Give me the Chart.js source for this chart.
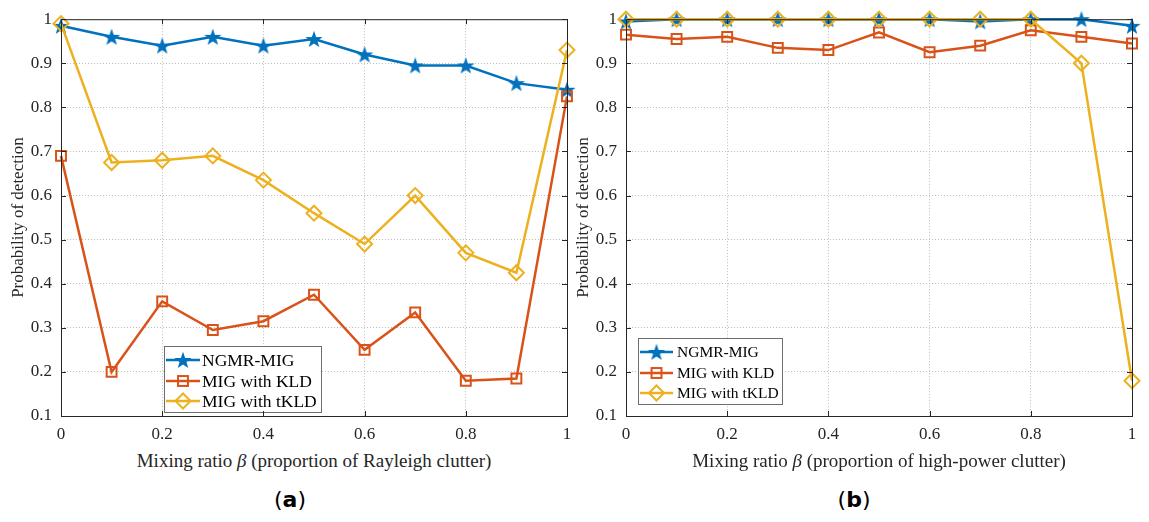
<!DOCTYPE html>
<html lang="en">
<head>
  <meta charset="UTF-8">
  <title>Probability of detection vs mixing ratio</title>
  <script src="https://cdn.jsdelivr.net/npm/chart.js"></script>
  <style>
    body {
      margin: 0;
      width: 1149px;
      height: 522px;
      position: relative;
      overflow: hidden;
      background: #fff;
      font-family: "Liberation Serif", "Times New Roman", serif;
      color: #262626;
    }
    .panel { position: absolute; top: 0; }
    #left { left: 0; }
    #right { left: 565px; }
    .xtitle {
      position: absolute;
      top: 450px;
      font-size: 19px;
      line-height: 22px;
      white-space: nowrap;
      transform: translateX(-50%);
    }
    .tag {
      position: absolute;
      top: 486px;
      font-family: "DejaVu Sans", sans-serif;
      font-size: 22px;
      line-height: 28px;
      color: #000;
      transform: translateX(-50%);
    }
  </style>
</head>
<body>
  <canvas id="left" class="panel" width="580" height="445"></canvas>
  <canvas id="right" class="panel" width="584" height="445"></canvas>
  <div class="xtitle" style="left:314px">Mixing ratio <i>&beta;</i> (proportion of Rayleigh clutter)</div>
  <div class="xtitle" style="left:879px">Mixing ratio <i>&beta;</i> (proportion of high-power clutter)</div>
  <div class="tag" style="left:290px">(<b>a</b>)</div>
  <div class="tag" style="left:854px">(<b>b</b>)</div>

  <script>
    // axis ticks
    const betaTicks = [0, 0.2, 0.4, 0.6, 0.8, 1];
    const betaLabels = ['0', '0.2', '0.4', '0.6', '0.8', '1'];
    const pdTicks = [0.1, 0.2, 0.3, 0.4, 0.5, 0.6, 0.7, 0.8, 0.9, 1];
    const pdLabels = ['0.1', '0.2', '0.3', '0.4', '0.5', '0.6', '0.7', '0.8', '0.9', '1'];

    // mixing ratio values (x)
    const beta = [0, 0.1, 0.2, 0.3, 0.4, 0.5, 0.6, 0.7, 0.8, 0.9, 1];
    const seriesNames = ['NGMR-MIG', 'MIG with KLD', 'MIG with tKLD'];

    // (a) Rayleigh clutter
    const rayNgmr = [0.985, 0.96, 0.94, 0.96, 0.94, 0.955, 0.92, 0.895, 0.895, 0.855, 0.84];
    const rayKld  = [0.69, 0.20, 0.36, 0.295, 0.315, 0.375, 0.25, 0.335, 0.18, 0.185, 0.825];
    const rayTkld = [0.99, 0.675, 0.68, 0.69, 0.635, 0.56, 0.49, 0.60, 0.47, 0.425, 0.93];

    // (b) high-power clutter
    const hpNgmr = [0.995, 1, 1, 1, 1, 1, 1, 0.995, 1, 1, 0.985];
    const hpKld  = [0.965, 0.955, 0.96, 0.935, 0.93, 0.97, 0.925, 0.94, 0.975, 0.96, 0.945];
    const hpTkld = [1, 1, 1, 1, 1, 1, 1, 1, 1, 0.90, 0.18];

    const colors = ['#0072BD', '#D95319', '#EDB120'];
    const axisColor = '#262626';

    // filled five-point star for the NGMR-MIG markers
    function makeStar(r, color) {
      const c = document.createElement('canvas');
      const s = Math.ceil(r * 2 + 2);
      c.width = s; c.height = s;
      const g = c.getContext('2d');
      g.fillStyle = color;
      g.beginPath();
      for (let i = 0; i < 10; i++) {
        const rr = i % 2 ? r * 0.4 : r;
        const a = -Math.PI / 2 + i * Math.PI / 5;
        g.lineTo(s / 2 + rr * Math.cos(a), s / 2 + rr * Math.sin(a) + 0.8);
      }
      g.closePath();
      g.fill();
      return c;
    }
    const star = makeStar(9, colors[0]);
    const markers = [
      { style: star, radius: 9 },
      { style: 'rect', radius: 7 },
      { style: 'rectRot', radius: 7.5 }
    ];

    function drawMarker(ctx, i, x, y) {
      const m = markers[i];
      ctx.save();
      ctx.strokeStyle = colors[i];
      ctx.lineWidth = 2;
      if (i === 0) {
        ctx.drawImage(m.style, x - m.style.width / 2, y - m.style.height / 2);
      } else if (i === 1) {
        const h = m.radius * Math.SQRT1_2;
        ctx.strokeRect(x - h, y - h, 2 * h, 2 * h);
      } else {
        const r = m.radius;
        ctx.beginPath();
        ctx.moveTo(x - r, y); ctx.lineTo(x, y - r);
        ctx.lineTo(x + r, y); ctx.lineTo(x, y + r);
        ctx.closePath();
        ctx.stroke();
      }
      ctx.restore();
    }

    // box legend drawn inside the axes, MATLAB style
    const boxLegend = {
      id: 'boxLegend',
      afterDatasetsDraw(chart, args, o) {
        const ctx = chart.ctx;
        ctx.save();
        ctx.fillStyle = '#fff';
        ctx.fillRect(o.x, o.y, o.w, o.h);
        ctx.strokeStyle = '#6e6e6e';
        ctx.lineWidth = 1;
        ctx.strokeRect(o.x + 0.5, o.y + 0.5, o.w, o.h);
        ctx.font = o.font + 'px "Liberation Serif", serif';
        ctx.textBaseline = 'middle';
        seriesNames.forEach((name, i) => {
          const y = o.rows[i];
          ctx.strokeStyle = colors[i];
          ctx.lineWidth = 2.5;
          ctx.beginPath();
          ctx.moveTo(o.x0, y); ctx.lineTo(o.x1, y);
          ctx.stroke();
          drawMarker(ctx, i, (o.x0 + o.x1) / 2, y);
          ctx.fillStyle = '#000';
          ctx.fillText(name, o.tx, y + 1);
        });
        ctx.restore();
      }
    };

    // full box around the axes with inward ticks
    const axesBox = {
      id: 'axesBox',
      afterDraw(chart) {
        const { ctx, chartArea: a, scales } = chart;
        ctx.save();
        ctx.strokeStyle = axisColor;
        ctx.lineWidth = 1;
        ctx.strokeRect(a.left + 0.5, a.top + 0.5, a.right - a.left, a.bottom - a.top);
        ctx.beginPath();
        betaTicks.forEach(v => {
          const x = Math.round(scales.x.getPixelForValue(v)) + 0.5;
          ctx.moveTo(x, a.bottom); ctx.lineTo(x, a.bottom - 5);
          ctx.moveTo(x, a.top); ctx.lineTo(x, a.top + 5);
        });
        pdTicks.forEach(v => {
          const y = Math.round(scales.y.getPixelForValue(v)) + 0.5;
          ctx.moveTo(a.left, y); ctx.lineTo(a.left + 5, y);
          ctx.moveTo(a.right, y); ctx.lineTo(a.right - 5, y);
        });
        ctx.stroke();
        ctx.restore();
      }
    };

    function makeChart(id, series, padRight, legend) {
      const datasets = series.map((vals, i) => ({
        label: seriesNames[i],
        data: beta.map((b, k) => ({ x: b, y: vals[k] })),
        borderColor: colors[i],
        backgroundColor: 'rgba(0,0,0,0)',
        borderWidth: 2.5,
        pointStyle: markers[i].style,
        pointRadius: markers[i].radius,
        pointBorderWidth: 2,
        pointBorderColor: colors[i],
        pointBackgroundColor: 'rgba(0,0,0,0)',
        tension: 0,
        clip: false,
        order: 3 - i
      }));
      const tickFont = { family: '"Liberation Serif", serif', size: 17 };
      return new Chart(document.getElementById(id), {
        type: 'line',
        data: { datasets },
        plugins: [boxLegend, axesBox],
        options: {
          responsive: false,
          animation: false,
          layout: { padding: { left: 0, top: 18, right: padRight, bottom: 0 } },
          plugins: {
            legend: { display: false },
            tooltip: { enabled: false },
            boxLegend: legend
          },
          scales: {
            x: {
              type: 'linear',
              min: 0,
              max: 1,
              afterBuildTicks: s => { s.ticks = betaTicks.map(v => ({ value: v })); },
              afterFit: s => { s.height = 29; },
              ticks: {
                callback: (v, i) => betaLabels[i],
                font: tickFont,
                color: axisColor,
                padding: 8,
                maxRotation: 0
              },
              grid: { color: '#bdbdbd', lineWidth: 1, drawTicks: false },
              border: { display: false, dash: [1, 2] }
            },
            y: {
              type: 'linear',
              min: 0.1,
              max: 1,
              afterBuildTicks: s => { s.ticks = pdTicks.map(v => ({ value: v })); },
              afterFit: s => { s.width = 61; },
              ticks: {
                callback: (v, i) => pdLabels[i],
                font: tickFont,
                color: axisColor,
                padding: 9
              },
              grid: { color: '#bdbdbd', lineWidth: 1, drawTicks: false },
              border: { display: false, dash: [1, 2] },
              title: {
                display: true,
                text: 'Probability of detection',
                font: { family: '"Liberation Serif", serif', size: 17 },
                color: axisColor,
                padding: { top: 8, bottom: 0 }
              }
            }
          }
        }
      });
    }

    makeChart('left', [rayNgmr, rayKld, rayTkld], 13, {
      x: 164, y: 346, w: 157, h: 66,
      rows: [360, 381, 401], x0: 166, x1: 200, tx: 202, font: 17.5
    });
    makeChart('right', [hpNgmr, hpKld, hpTkld], 17, {
      x: 73, y: 338, w: 144, h: 66,
      rows: [352, 373, 393], x0: 75, x1: 108, tx: 112, font: 15.5
    });
  </script>
</body>
</html>
